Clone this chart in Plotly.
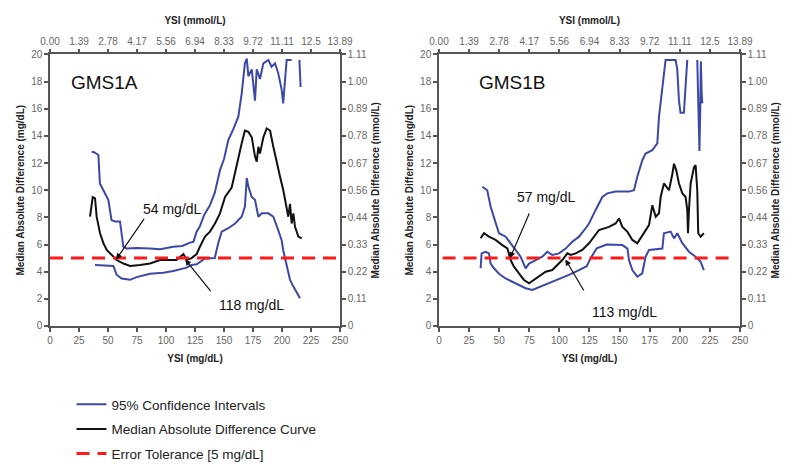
import plotly.graph_objects as go

# ---------------- data ----------------
mgdl_ticks = [0, 25, 50, 75, 100, 125, 150, 175, 200, 225, 250]
mmol_ticks = ["0.00", "1.39", "2.78", "4.17", "5.56", "6.94", "8.33", "9.72", "11.11", "12.5", "13.89"]
mad_ticks = [0, 2, 4, 6, 8, 10, 12, 14, 16, 18, 20]
mad_mmol_ticks = ["0", "0.11", "0.22", "0.33", "0.44", "0.56", "0.67", "0.78", "0.89", "1.00", "1.11"]

tolerance = 5
tol_x_a = [0, 250]
tol_x_b = [3, 243]

# GMS1A
a_up_x = [35.9, 38, 41.7, 43, 46, 50.3, 53, 56, 60.3, 63.2, 66, 75, 86, 95, 106, 114, 120.7, 123.6, 126.4, 129,
          133, 137.9, 142, 146.6, 150, 153.7, 158, 162.3, 165.2, 168, 169.6, 171, 173.9, 176.7, 178.2, 181, 183.9,
          188.2, 191, 194, 196.8, 199.7, 201, 202.6, 204, 208.3, None, 215, 215.5, 216]
a_up_y = [12.84, 12.8, 12.6, 10.5, 10.0, 9.28, 7.8, 7.7, 7.7, 5.84, 5.7, 5.75, 5.7, 5.65, 5.84, 5.9, 6.14, 6.2, 6.95, 7.3,
          8.2, 8.9, 9.8, 11.5, 12.3, 13.7, 14.5, 15.4, 17.1, 19.35, 19.7, 18.4, 18.9, 16.6, 18.9, 18.2, 19.35,
          19.6, 19.1, 19.35, 18.6, 17.4, 16.4, 18.1, 19.6, 19.6, None, 19.6, 18.5, 17.6]

a_lo_x = [38.8, 45, 54.6, 57.5, 61.8, 69, 74.7, 86.2, 97.7, 106.3, 112, 117.8, 122, 126.4, 133.6, 142, 145, 148,
          153.7, 159.5, 165.2, 168, 169.6, 171, 173.9, 176.7, 179.6, 182.5, 188.2, 192.5, 196.8, 199.7, 201, 204,
          206.9, 209.8, 211.2, 215.5]
a_lo_y = [4.49, 4.45, 4.42, 3.76, 3.5, 3.4, 3.6, 3.85, 3.93, 4.05, 4.2, 4.3, 4.5, 4.55, 4.98, 5.0, 6.09, 6.95,
          7.2, 7.55, 8.05, 8.8, 10.9, 10.27, 9.5, 9.3, 8.05, 8.3, 8.3, 8.05, 7.05, 6.3, 5.6, 4.38,
          3.4, 2.9, 2.67, 2.05]

a_md_x = [34.5, 36.8, 38.8, 40.2, 43.1, 46, 48.9, 53.2, 57.5, 63.2, 69, 77.6, 86.2, 94.8, 103.4, 109, 115, 117.8,
          122, 126.4, 129, 133.6, 137.9, 142.2, 146.5, 150.9, 156.6, 160.9, 165.2, 168, 171, 173.9, 176.7, 178.2,
          179.6, 181, 183.9, 186.8, 189.7, 192.5, 195.4, 198.3, 201.1, 204, 205.4, 206.9, 208.3, 209.8, 211.2,
          214.1, 217]
a_md_y = [8.05, 9.5, 9.4, 8.05, 6.83, 6.1, 5.6, 5.25, 4.86, 4.6, 4.42, 4.5, 4.6, 4.86, 4.86, 4.86, 5.3, 4.86,
          5.0, 5.3, 5.8, 6.58, 6.95, 7.55, 8.3, 9.5, 10.2, 11.9, 13.45, 14.4, 14.3, 13.9, 12.5, 12.1,
          13.2, 12.7, 13.9, 14.55, 14.4, 13.2, 12.0, 11.0, 10.0, 8.6, 8.05, 9.0, 7.55, 8.3, 7.3,
          6.58, 6.45]

# GMS1B
b_up_x = [36, 40.1, 42.9, 47, 49.8, 55.4, 59.5, 63.7, 67.8, 72, 74.8, 80.3, 85.8, 90, 94.1, 99.7, 105.2, 110.7,
          116.3, 121.8, 124.6, 130.1, 135.7, 139.8, 146.7, 157.8, 161.9, 164.7, 168.8, 171.6, 177.2, 181.3, 182.7,
          185.3, 188.2, 196.5, 197.9, 199.3, 200.6, 203.4, 204.8, 206.2, None, 214.5, 215.5, 216.3, 217, 217.5,
          218.2, 218.7]
b_up_y = [10.26, 10.0, 8.79, 7.55, 6.83, 6.58, 6.1, 5.6, 5.1, 4.25, 4.6, 4.86, 5.1, 5.47, 5.23, 5.35, 5.7, 6.2,
          6.58, 7.2, 7.55, 8.55, 9.5, 9.77, 9.9, 9.9, 10.0, 11.0, 12.2, 12.7, 12.95, 13.45, 15.4,
          17.4, 19.6, 19.6, 18.9, 16.6, 15.7, 15.7, 17.9, 19.6, None, 19.6, 16.5, 12.9, 16.0, 19.5,
          17.0, 16.4]

b_lo_x = [34.6, 35.4, 38.8, 41.5, 42.9, 45.7, 49.8, 55.4, 60.9, 66.4, 72, 77.5, 83, 91.4, 99.7, 108, 116.3, 122.7,
          126, 131, 139.3, 152.3, 156.5, 157.8, 160.6, 164.7, 168.8, 171.6, 174.4, 185.5, 186.8, 192.4, 195.2,
          197.9, 202.1, 207.6, 213.1, 217.3, 220]
b_lo_y = [4.25, 5.35, 5.47, 5.35, 4.6, 4.25, 3.85, 3.5, 3.26, 3.02, 2.78, 2.65, 2.85, 3.14, 3.4, 3.76, 4.12, 4.4,
          5.0, 5.72, 6.0, 5.96, 5.7, 4.86, 4.12, 3.63, 3.88, 5.1, 5.6, 5.7, 6.83, 6.95, 6.45,
          6.83, 6.1, 5.47, 5.1, 4.73, 4.12]

b_md_x = [34.6, 37.4, 41.5, 47, 52.6, 56.8, 59.5, 62.3, 66.4, 70.6, 74.8, 78.9, 83, 88.6, 94.1, 98.3, 102.4, 106.6,
          109.4, 113.5, 119, 124.6, 132.9, 141.2, 146.7, 149.5, 152.3, 156.4, 160.6, 164.7, 168.8, 174.4, 177.2,
          180, 182.7, 184.1, 186.8, 191, 193.8, 195.2, 197.1, 199.3, 202.1, 204.8, 206.2, 206.8, 207.6, 209,
          211.8, 213.1, 214.5, 215.3, 217.3, 220]
b_md_y = [6.46, 6.83, 6.58, 6.34, 5.96, 5.72, 4.86, 4.37, 3.88, 3.39, 3.14, 3.39, 3.63, 4.0, 4.12, 4.5, 4.86, 5.35,
          5.23, 5.35, 5.6, 6.09, 7.07, 7.3, 7.55, 7.92, 7.3, 6.95, 6.34, 6.09, 6.7, 7.43, 8.9,
          8.05, 8.3, 9.5, 10.5, 10.0, 11.2, 11.95, 11.45, 10.5, 9.77, 9.5, 8.55, 6.83, 8.55, 10.5,
          11.7, 11.85, 10.0, 6.83, 6.58, 6.83]

# annotation anchors: (label, tip x, tip y, tail x, tail y, text x, text y)
a_labels = [("54 mg/dL", 57, 4.9, 82, 8.0, 106, 8.6), ("118 mg/dL", 116.5, 4.9, 139.5, 2.45, 174, 1.55)]
b_labels = [("57 mg/dL", 59, 5.0, 75.5, 8.4, 89, 9.5), ("113 mg/dL", 105, 4.9, 121, 2.5, 154, 1.05)]

BLUE = "#3c48a8"
BLACK = "#111111"
RED = "#ff1a1a"
AXC = "#555555"
TICKF = dict(family="Liberation Sans Narrow, Liberation Sans, Arial", size=10, color="#666666")
TITLEF = dict(family="Liberation Sans, Arial", size=10, color="#222222")

fig = go.Figure()

def add_panel(xa, ya, xt, yr, up_x, up_y, lo_x, lo_y, md_x, md_y, tol_x, legend):
    fig.add_trace(go.Scatter(x=up_x, y=up_y, mode="lines", line=dict(color=BLUE, width=2),
                             name="95% Confidence Intervals", showlegend=legend, legendgroup="ci",
                             xaxis=xa, yaxis=ya, connectgaps=False))
    fig.add_trace(go.Scatter(x=lo_x, y=lo_y, mode="lines", line=dict(color=BLUE, width=2),
                             name="95% Confidence Intervals", showlegend=False, legendgroup="ci",
                             xaxis=xa, yaxis=ya))
    fig.add_trace(go.Scatter(x=md_x, y=md_y, mode="lines", line=dict(color=BLACK, width=2),
                             name="Median Absolute Difference Curve", showlegend=legend, legendgroup="md",
                             xaxis=xa, yaxis=ya))
    fig.add_trace(go.Scatter(x=tol_x, y=[tolerance] * len(tol_x), mode="lines",
                             line=dict(color=RED, width=3, dash="13px,8px"),
                             name="Error Tolerance [5 mg/dL]", showlegend=legend, legendgroup="tol",
                             xaxis=xa, yaxis=ya))
    # transparent copy so that the secondary (mmol) axes are drawn
    fig.add_trace(go.Scatter(x=tol_x, y=[tolerance] * len(tol_x), mode="lines",
                             line=dict(color="rgba(0,0,0,0)", width=0), showlegend=False,
                             hoverinfo="skip", xaxis=xt, yaxis=yr))

add_panel("x", "y", "x3", "y3", a_up_x, a_up_y, a_lo_x, a_lo_y, a_md_x, a_md_y, tol_x_a, True)
add_panel("x2", "y2", "x4", "y4", b_up_x, b_up_y, b_lo_x, b_lo_y, b_md_x, b_md_y, tol_x_b, False)

common = dict(showline=True, linecolor=AXC, linewidth=1.5, ticks="outside", ticklen=4, tickwidth=1.5,
              tickcolor=AXC, showgrid=False, zeroline=False, tickfont=TICKF, fixedrange=True,
              automargin=False)

# figure is drawn inside the page's 8px body margin
W, H = 784, 458
ydom = [0.3057, 0.8985]
xdoms = [[0.0536, 0.4235], [0.5497, 0.9337]]

layout = dict(
    width=W, height=H, margin=dict(l=0, r=0, t=0, b=0, autoexpand=False),
    paper_bgcolor="white", plot_bgcolor="white", showlegend=True,
    legend=dict(x=0.081, y=0.168, xanchor="left", yanchor="top", traceorder="grouped", tracegroupgap=4,
                font=dict(family="Liberation Sans, Arial", size=13.5, color="#222222"),
                bgcolor="rgba(0,0,0,0)", itemwidth=30),
)
for i, (xn, yn, xt, yr) in enumerate([("xaxis", "yaxis", "xaxis3", "yaxis3"),
                                       ("xaxis2", "yaxis2", "xaxis4", "yaxis4")]):
    xid = "x" if i == 0 else "x2"
    yid = "y" if i == 0 else "y2"
    layout[xn] = dict(common, domain=xdoms[i], range=[0, 250], tickvals=mgdl_ticks, anchor=yid,
                      title=dict(text="<b>YSI (mg/dL)</b>", font=TITLEF, standoff=10))
    layout[yn] = dict(common, domain=ydom, range=[0, 20], tickvals=mad_ticks, anchor=xid,
                      title=dict(text="<b>Median Absolute Difference (mg/dL)</b>", font=TITLEF, standoff=5))
    layout[xt] = dict(common, range=[0, 250], tickvals=mgdl_ticks, ticktext=mmol_ticks, overlaying=xid,
                      side="top", anchor=yid,
                      title=dict(text="<b>YSI (mmol/L)</b>", font=TITLEF, standoff=9))
    layout[yr] = dict(common, range=[0, 20], tickvals=mad_ticks, ticktext=mad_mmol_ticks, overlaying=yid,
                      side="right", anchor=xid,
                      title=dict(text="<b>Median Absolute Difference (mmol/L)</b>", font=TITLEF, standoff=5))

fig.update_layout(**layout)

ann = []
ANNF = dict(family="Liberation Sans, Arial", size=14, color="#111111")
for (xid, yid, name, lbls) in [("x", "y", "GMS1A", a_labels), ("x2", "y2", "GMS1B", b_labels)]:
    ann.append(dict(x=0.066 if xid == "x" else 0.127, y=0.895, xref=f"{xid} domain", yref=f"{yid} domain",
                    text=name, showarrow=False, xanchor="left", yanchor="middle",
                    font=dict(family="Liberation Sans, Arial", size=19, color="#111111")))
    for (t, tx, ty, ax, ay, lx, ly) in lbls:
        ann.append(dict(x=tx, y=ty, ax=ax, ay=ay, xref=xid, yref=yid, axref=xid, ayref=yid, text="",
                        showarrow=True, arrowhead=2, arrowsize=1, arrowwidth=1.2, arrowcolor="#111111"))
        ann.append(dict(x=lx, y=ly, xref=xid, yref=yid, text=t, showarrow=False, font=ANNF))
fig.update_layout(annotations=ann)

fig.write_html("out.html")
